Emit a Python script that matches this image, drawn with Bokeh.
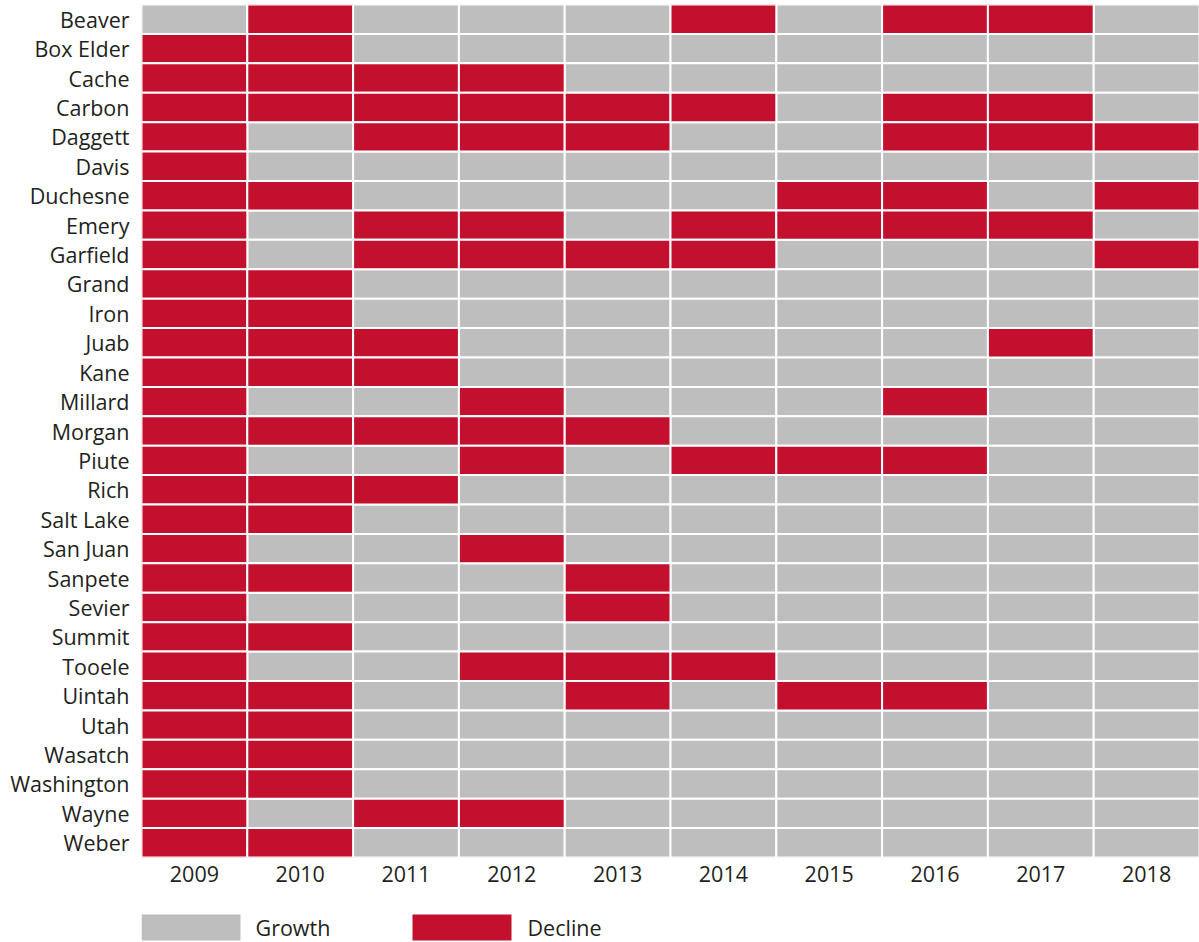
from bokeh.plotting import figure
from bokeh.models import ColumnDataSource, Range1d
from bokeh.core.properties import value
from bokeh.layouts import column
from bokeh.embed import file_html
from bokeh.resources import INLINE

years = ["2009", "2010", "2011", "2012", "2013", "2014", "2015", "2016", "2017", "2018"]
counties = ["Beaver", "Box Elder", "Cache", "Carbon", "Daggett", "Davis", "Duchesne", "Emery",
            "Garfield", "Grand", "Iron", "Juab", "Kane", "Millard", "Morgan", "Piute", "Rich",
            "Salt Lake", "San Juan", "Sanpete", "Sevier", "Summit", "Tooele", "Uintah", "Utah",
            "Wasatch", "Washington", "Wayne", "Weber"]
# G = Growth, D = Decline, by year 2009..2018
status = {
    "Beaver":     "GDGGGDGDDG",
    "Box Elder":  "DDGGGGGGGG",
    "Cache":      "DDDDGGGGGG",
    "Carbon":     "DDDDDDGDDG",
    "Daggett":    "DGDDDGGDDD",
    "Davis":      "DGGGGGGGGG",
    "Duchesne":   "DDGGGGDDGD",
    "Emery":      "DGDDGDDDDG",
    "Garfield":   "DGDDDDGGGD",
    "Grand":      "DDGGGGGGGG",
    "Iron":       "DDGGGGGGGG",
    "Juab":       "DDDGGGGGDG",
    "Kane":       "DDDGGGGGGG",
    "Millard":    "DGGDGGGDGG",
    "Morgan":     "DDDDDGGGGG",
    "Piute":      "DGGDGDDDGG",
    "Rich":       "DDDGGGGGGG",
    "Salt Lake":  "DDGGGGGGGG",
    "San Juan":   "DGGDGGGGGG",
    "Sanpete":    "DDGGDGGGGG",
    "Sevier":     "DGGGDGGGGG",
    "Summit":     "DDGGGGGGGG",
    "Tooele":     "DGGDDDGGGG",
    "Uintah":     "DDGGDGDDGG",
    "Utah":       "DDGGGGGGGG",
    "Wasatch":    "DDGGGGGGGG",
    "Washington": "DDGGGGGGGG",
    "Wayne":      "DGDDGGGGGG",
    "Weber":      "DDGGGGGGGG",
}
legend_labels = ["Growth", "Decline"]

GREY = "#BEBEBE"
RED = "#C3102E"
FONT = "Open Sans"
FS = "21.5px"
TXT = "#231F20"

data = {"Growth": {"x": [], "y": []}, "Decline": {"x": [], "y": []}}
for c in counties:
    for y, s in zip(years, status[c]):
        key = "Growth" if s == "G" else "Decline"
        data[key]["x"].append(y)
        data[key]["y"].append(c)

p = figure(width=1199, height=900, x_range=years, y_range=list(reversed(counties)),
           output_backend="svg", toolbar_location=None,
           min_border_left=141, min_border_right=0, min_border_top=4, min_border_bottom=43)

p.rect(x="x", y="y", width=1, height=1, source=ColumnDataSource(data["Growth"]),
       fill_color=GREY, line_color="white", line_width=2)
p.rect(x="x", y="y", width=1, height=1, source=ColumnDataSource(data["Decline"]),
       fill_color=RED, line_color="white", line_width=2)

p.outline_line_color = None
p.grid.visible = False
for ax in (p.xaxis[0], p.yaxis[0]):
    ax.axis_line_color = None
    ax.major_tick_line_color = None
    ax.minor_tick_line_color = None
    ax.major_label_text_font = FONT
    ax.major_label_text_font_size = FS
    ax.major_label_text_color = TXT
p.yaxis[0].major_label_standoff = 6
p.xaxis[0].major_label_standoff = 2

# legend strip (pixel-unit layout coordinates, frame aligned with the main plot's frame)
lg = figure(width=1199, height=42, x_range=Range1d(141, 1199), y_range=Range1d(42, 0),
            output_backend="svg", toolbar_location=None,
            min_border_left=141, min_border_right=0, min_border_top=0, min_border_bottom=0)
lg.axis.visible = False
lg.grid.visible = False
lg.outline_line_color = None
lsrc = ColumnDataSource(dict(
    rx=[190.5, 461.5], tx=[255, 527], y=[27, 27], w=[99, 99], h=[26, 26],
    color=[GREY, RED], label=legend_labels))
lg.rect(x="rx", y="y", width="w", height="h", fill_color="color", line_color=None, source=lsrc)
lg.text(x="tx", y="y", text="label", text_font=value(FONT), text_font_size=FS,
        text_color=TXT, text_baseline="middle", text_align="left", source=lsrc)

layout = column(p, lg, spacing=0)
open("out.html", "w").write(file_html(layout, INLINE))
